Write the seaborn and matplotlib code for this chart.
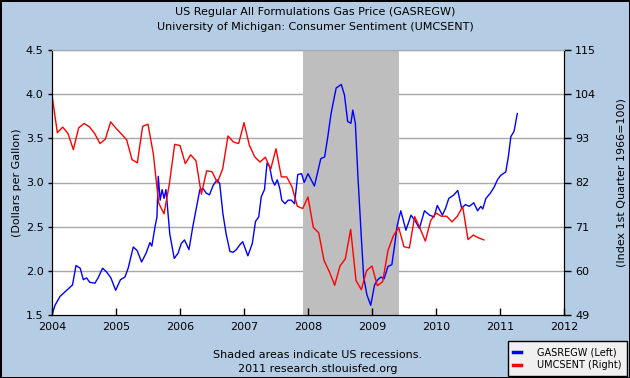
import numpy as np
import pandas as pd
import matplotlib
matplotlib.use("Agg")
import matplotlib.pyplot as plt
from matplotlib.lines import Line2D
import seaborn as sns

# GASREGW, dollars per gallon (time in decimal years)
gas_t = [2004.00, 2004.047, 2004.125, 2004.20, 2004.26, 2004.32, 2004.375, 2004.44, 2004.49, 2004.54,
         2004.59, 2004.67, 2004.72, 2004.79, 2004.85, 2004.92, 2004.995, 2005.07, 2005.14, 2005.19,
         2005.27, 2005.33, 2005.40, 2005.47, 2005.53, 2005.56, 2005.61, 2005.64, 2005.66, 2005.69,
         2005.72, 2005.75, 2005.78, 2005.80, 2005.84, 2005.91, 2005.97, 2006.02, 2006.07, 2006.14,
         2006.20, 2006.26, 2006.31, 2006.36, 2006.41, 2006.46, 2006.52, 2006.58, 2006.62, 2006.67,
         2006.72, 2006.78, 2006.83, 2006.88, 2006.93, 2006.98, 2007.06, 2007.13, 2007.18, 2007.23,
         2007.27, 2007.32, 2007.36, 2007.40, 2007.44, 2007.48, 2007.52, 2007.56, 2007.59, 2007.64,
         2007.69, 2007.74, 2007.79, 2007.84, 2007.90, 2007.94, 2008.00, 2008.10, 2008.20, 2008.26,
         2008.31, 2008.36, 2008.44, 2008.52, 2008.57, 2008.62, 2008.67, 2008.70, 2008.74, 2008.78,
         2008.83, 2008.87, 2008.92, 2008.98, 2009.04, 2009.09, 2009.14, 2009.19, 2009.25, 2009.31,
         2009.35, 2009.39, 2009.45, 2009.53, 2009.61, 2009.68, 2009.74, 2009.82, 2009.90, 2009.97,
         2010.02, 2010.10, 2010.15, 2010.20, 2010.28, 2010.34, 2010.40, 2010.46, 2010.52, 2010.59,
         2010.65, 2010.70, 2010.73, 2010.78, 2010.85, 2010.91, 2010.96, 2011.01, 2011.09, 2011.13,
         2011.17, 2011.22, 2011.27]
gas_v = [1.50, 1.61, 1.71, 1.76, 1.80, 1.84, 2.06, 2.03, 1.90, 1.92,
         1.87, 1.86, 1.92, 2.03, 1.99, 1.92, 1.78, 1.90, 1.93, 2.03,
         2.27, 2.23, 2.10, 2.20, 2.32, 2.28, 2.50, 2.61, 3.07, 2.80,
         2.92, 2.82, 2.92, 2.76, 2.42, 2.14, 2.20, 2.31, 2.35, 2.24,
         2.50, 2.73, 2.92, 2.93, 2.88, 2.86, 2.97, 3.03, 2.99, 2.65,
         2.42, 2.22, 2.21, 2.24, 2.29, 2.33, 2.17, 2.31, 2.56, 2.61,
         2.84, 2.92, 3.22, 3.18, 3.03, 2.97, 3.03, 2.93, 2.80, 2.76,
         2.80, 2.80, 2.76, 3.09, 3.10, 3.00, 3.10, 2.96, 3.27, 3.29,
         3.52, 3.78, 4.07, 4.11, 3.99, 3.69, 3.67, 3.82, 3.67, 3.07,
         2.42, 1.93, 1.73, 1.61, 1.84, 1.90, 1.93, 1.91, 2.05, 2.07,
         2.27, 2.50, 2.68, 2.46, 2.63, 2.56, 2.48, 2.68, 2.63, 2.61,
         2.74, 2.63, 2.71, 2.82, 2.86, 2.91, 2.71, 2.75, 2.73, 2.77,
         2.68, 2.73, 2.70, 2.82, 2.88, 2.95, 3.03, 3.08, 3.12, 3.29,
         3.52, 3.58, 3.78]

# UMCSENT, monthly Jan 2004 - Oct 2010
sent_v = [103.8, 94.4, 95.8, 94.2, 90.2, 95.6, 96.7, 95.9, 94.2, 91.7, 92.8, 97.1,
          95.5, 94.1, 92.6, 87.7, 86.9, 96.0, 96.5, 89.1, 76.9, 74.2, 81.6, 91.5,
          91.2, 86.7, 88.9, 87.4, 79.1, 84.9, 84.7, 82.0, 85.4, 93.6, 92.1, 91.7,
          96.9, 91.3, 88.4, 87.1, 88.3, 85.3, 90.4, 83.4, 83.4, 80.9, 76.1, 75.5,
          78.4, 70.8, 69.5, 62.6, 59.8, 56.4, 61.2, 63.0, 70.3, 57.6, 55.3, 60.1,
          61.2, 56.3, 57.3, 65.1, 68.7, 70.8, 66.0, 65.7, 73.5, 70.6, 67.4, 72.5,
          74.4, 73.6, 73.6, 72.2, 73.6, 76.0, 67.8, 68.9, 68.2, 67.7]
sent_t = [2004 + i / 12 for i in range(len(sent_v))]

years = list(range(2004, 2013))
left_ticks = [1.5, 2.0, 2.5, 3.0, 3.5, 4.0, 4.5]
right_ticks = [49, 60, 71, 82, 93, 104, 115]
recession = (2007 + 11 / 12, 2009 + 5 / 12)

bg = '#B5CDE4'
fs = 8

fig = plt.figure(figsize=(6.3, 3.78), dpi=100, facecolor=bg)
fig.patch.set_edgecolor('black')
fig.patch.set_linewidth(2)
ax = fig.add_axes([52 / 630, 1 - 315 / 378, 512 / 630, 265 / 378])
ax.set_facecolor('white')

for v in left_ticks[1:]:
    ax.axhline(v, color='#A8A8A8', lw=1, zorder=0.5)
ax.axvspan(*recession, color='#BEBEBE', lw=0, zorder=1)

sns.lineplot(x=gas_t, y=gas_v, ax=ax, color='#0000FF', lw=1, sort=False, zorder=2)
ax.set_xlim(2004, 2012)
ax.set_ylim(1.5, 4.5)
ax.set_xticks(years)
ax.set_xticklabels([str(y) for y in years], fontsize=fs)
ax.set_yticks(left_ticks)
ax.set_yticklabels([f'{v:.1f}' for v in left_ticks], fontsize=fs)
ax.tick_params(axis='x', direction='in', length=5, width=1, pad=5)
ax.tick_params(axis='y', direction='out', length=3, width=1, pad=3)
ax.set_ylabel('(Dollars per Gallon)', fontsize=fs)
ax.yaxis.set_label_coords(-0.058, 0.5)

ax2 = ax.twinx()
sns.lineplot(x=sent_t, y=sent_v, ax=ax2, color='#FF0000', lw=1, sort=False)
ax2.set_ylim(49, 115)
ax2.set_yticks(right_ticks)
ax2.set_yticklabels([str(v) for v in right_ticks], fontsize=fs)
ax2.tick_params(axis='y', direction='out', length=5, width=1, pad=3)
ax2.set_ylabel('(Index 1st Quarter 1966=100)', fontsize=fs)
ax2.yaxis.set_label_coords(1.103, 0.5)

for a in (ax, ax2):
    a.spines['top'].set_color('#A8A8A8')
    a.spines['left'].set_color('black')
    a.spines['right'].set_color('black')
    a.spines['bottom'].set_color('black')
    a.set_xlabel('')

fig.text(0.5, 1 - 12 / 378, 'US Regular All Formulations Gas Price (GASREGW)',
         ha='center', va='center', fontsize=fs)
fig.text(0.5, 1 - 27 / 378, 'University of Michigan: Consumer Sentiment (UMCSENT)',
         ha='center', va='center', fontsize=fs)
fig.text(318 / 630, 1 - 355 / 378, 'Shaded areas indicate US recessions.',
         ha='center', va='center', fontsize=fs)
fig.text(318 / 630, 1 - 369 / 378, '2011 research.stlouisfed.org',
         ha='center', va='center', fontsize=fs)

handles = [Line2D([], [], color='#0000FF', lw=2.5), Line2D([], [], color='#FF0000', lw=2.5)]
leg = fig.legend(handles, ['GASREGW (Left)', 'UMCSENT (Right)'], loc='lower right',
                 bbox_to_anchor=(627 / 630, 2 / 378), fontsize=7, frameon=True, fancybox=False,
                 handlelength=0.8, handletextpad=1.6, borderpad=0.6, borderaxespad=0,
                 labelspacing=0.3)
leg.get_frame().set_edgecolor('black')
leg.get_frame().set_facecolor('#F0F0F0')
leg.get_frame().set_linewidth(1)
leg.get_frame().set_alpha(1)

fig.savefig('out.png', dpi=100, facecolor=bg, edgecolor='black')
